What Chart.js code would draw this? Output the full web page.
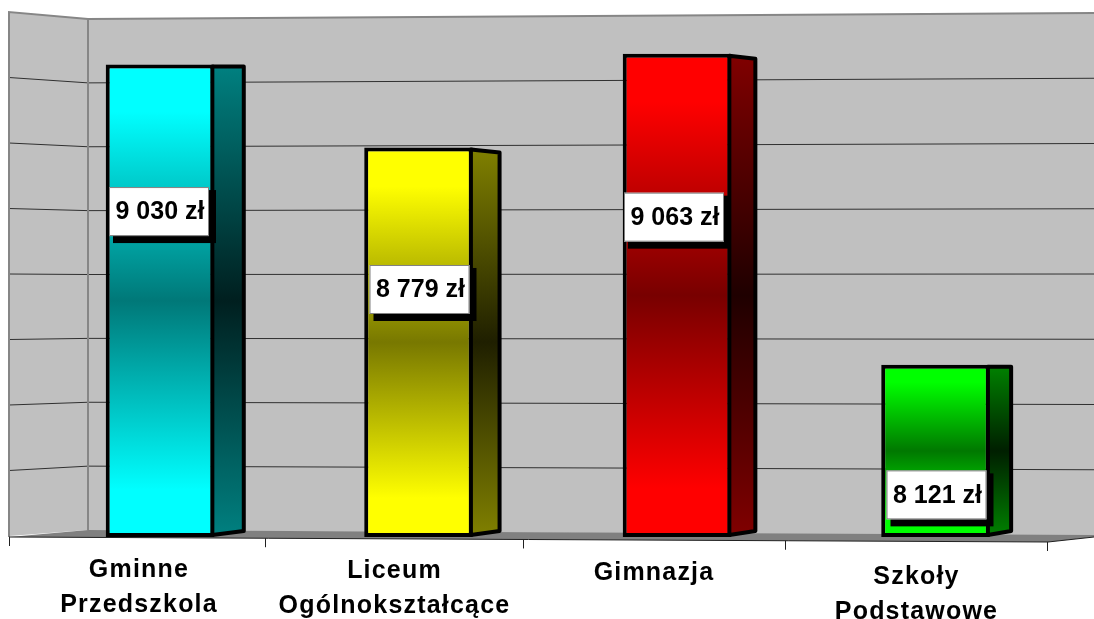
<!DOCTYPE html>
<html>
<head>
<meta charset="utf-8">
<title>Wydatki na ucznia</title>
<style>
  html, body { margin: 0; background: #fff; }
  canvas { display: block; }
</style>
<script src="https://cdn.jsdelivr.net/npm/chart.js@4"></script>
</head>
<body>
<canvas id="costChart" width="1094" height="619"></canvas>
<script>
const categories = [['Gminne', 'Przedszkola'], ['Liceum', 'Ogólnokształcące'], ['Gimnazja'], ['Szkoły', 'Podstawowe']];
const costs = [9030, 8779, 9063, 8121];
const faceColors = ['#00ffff', '#ffff00', '#ff0000', '#00ff00'];
const faceMidColors = ['#007878', '#787800', '#780000', '#007800'];
const sideColors = ['#008080', '#808000', '#800000', '#008000'];
const sideDarkColors = ['#001f1f', '#1f1f00', '#1f0000', '#001f00'];
const axisMin = 7600;
const axisMax = 9200;
const axisStep = 200;

// per bar tweaks, the original 3D chart is not regular
const labelDrop = [147, 142, 163.5, 130];
const labelShift = [-1, 1, -3, 1];
const sideTopDrop = [0, 3, 3, 0];
const tickLabelDrift = [0, 1, 3, 7];
const tickLabelNudge = [0, -3, -2, 2];
const tickMarkNudge = [-1, -3, -4, 0, 3];
const FONT = "'Liberation Sans', Arial, sans-serif";

function money(v) {
  return String(v).replace(/\B(?=(\d{3})+$)/g, ' ') + ' zł';
}

function lerp(a, b, t) {
  return a + (b - a) * t;
}

function faceGradient(c) {
  const { chart, dataIndex } = c;
  if (!chart.chartArea) return faceColors[dataIndex];
  const y = chart.scales.y;
  const g = chart.ctx.createLinearGradient(0, y.getPixelForValue(costs[dataIndex]), 0, y.bottom);
  g.addColorStop(0.1, faceColors[dataIndex]);
  g.addColorStop(0.5, faceMidColors[dataIndex]);
  g.addColorStop(0.9, faceColors[dataIndex]);
  return g;
}

const room3d = {
  id: 'room3d',
  afterUpdate(chart) {
    // tick labels follow the tilt of the front edge
    chart.scales.x.getLabelItems().forEach((item, i) => {
      item.options.translation[0] += tickLabelNudge[i];
      item.options.translation[1] += tickLabelDrift[i];
    });
  },
  beforeDraw(chart) {
    chart.ctx.letterSpacing = '1.2px';
  },
  beforeDatasetsDraw(chart) {
    const ctx = chart.ctx;
    const x = chart.scales.x;
    const y = chart.scales.y;
    const t = v => (y.getPixelForValue(v) - y.top) / (y.bottom - y.top);
    ctx.save();

    // walls
    ctx.fillStyle = '#c0c0c0';
    ctx.beginPath();
    ctx.moveTo(9, 12); ctx.lineTo(88, 19); ctx.lineTo(1094, 13);
    ctx.lineTo(1094, 536); ctx.lineTo(88, 530); ctx.lineTo(9, 536);
    ctx.closePath();
    ctx.fill();

    // gridlines, one per y tick
    y.ticks.forEach(tick => {
      if (tick.value === axisMin || tick.value === axisMax) return;
      const f = t(tick.value);
      ctx.strokeStyle = '#303030';
      ctx.lineWidth = 1;
      ctx.beginPath();
      ctx.moveTo(9, lerp(12, 536, f));
      ctx.lineTo(88, lerp(19, 530, f));
      ctx.lineTo(1094, lerp(13, 535, f));
      ctx.stroke();
    });

    // floor
    ctx.fillStyle = '#808080';
    ctx.beginPath();
    ctx.moveTo(9, 537); ctx.lineTo(88, 530); ctx.lineTo(1094, 535);
    ctx.lineTo(1094, 537); ctx.lineTo(1048, 542);
    ctx.closePath();
    ctx.fill();

    // wall edges
    ctx.strokeStyle = '#868686';
    ctx.lineWidth = 2;
    ctx.beginPath();
    ctx.moveTo(9, 537); ctx.lineTo(9, 12); ctx.lineTo(88, 19); ctx.lineTo(1094, 13);
    ctx.moveTo(88, 19); ctx.lineTo(88, 530);
    ctx.stroke();

    // front edge and tick marks between the categories
    ctx.strokeStyle = '#202020';
    ctx.lineWidth = 1;
    ctx.beginPath();
    ctx.moveTo(9, 537); ctx.lineTo(1048, 542); ctx.lineTo(1094, 537);
    const step = x.width / categories.length;
    for (let i = 0; i <= categories.length; i++) {
      const px = x.left + step * i - 21 + tickMarkNudge[i];
      const py = lerp(537, 542, (px - 9) / 1039);
      ctx.moveTo(Math.round(px) + 0.5, py);
      ctx.lineTo(Math.round(px) + 0.5, py + 9);
    }
    ctx.stroke();

    // side faces of the bars
    chart.getDatasetMeta(0).data.forEach((bar, i) => {
      const right = bar.x + bar.width / 2 - 2;
      const top = bar.y + 2;
      const bottom = bar.base - 2;
      const depth = 31.5 - (bar.x - 160) * 0.0105;
      const g = ctx.createLinearGradient(0, top, 0, bottom);
      g.addColorStop(0, sideColors[i]);
      g.addColorStop(0.5, sideDarkColors[i]);
      g.addColorStop(1, sideColors[i]);
      ctx.fillStyle = g;
      ctx.strokeStyle = '#000';
      ctx.lineWidth = 4;
      ctx.lineJoin = 'round';
      ctx.beginPath();
      ctx.moveTo(right, top);
      ctx.lineTo(right + depth, top + sideTopDrop[i]);
      ctx.lineTo(right + depth, bottom - 4);
      ctx.lineTo(right, bottom);
      ctx.closePath();
      ctx.fill();
      ctx.stroke();
    });
    ctx.restore();
  },
  afterDatasetsDraw(chart) {
    const ctx = chart.ctx;
    ctx.save();
    ctx.letterSpacing = '0px';
    ctx.font = 'bold 25px ' + FONT;
    ctx.textAlign = 'center';
    ctx.textBaseline = 'middle';
    chart.getDatasetMeta(0).data.forEach((bar, i) => {
      const w = 100;
      const h = 49;
      const cx = bar.x + labelShift[i];
      const left = cx - w / 2;
      const top = bar.y + labelDrop[i] - h / 2;
      ctx.fillStyle = '#000';
      ctx.fillRect(left + 4, top + 3, w + 3, h + 4);
      ctx.fillStyle = '#fff';
      ctx.fillRect(left, top, w, h);
      ctx.strokeStyle = '#808080';
      ctx.lineWidth = 1;
      ctx.strokeRect(left + 0.5, top + 0.5, w - 1, h - 1);
      ctx.fillStyle = '#000';
      ctx.fillText(money(costs[i]), cx + 1, top + h / 2 + 1);
    });
    ctx.restore();
  }
};

new Chart(document.getElementById('costChart').getContext('2d'), {
  type: 'bar',
  data: {
    labels: categories,
    datasets: [{
      label: 'Koszt',
      data: costs,
      base: axisMin,
      backgroundColor: faceGradient,
      borderColor: '#000',
      borderWidth: 4,
      borderSkipped: false,
      barPercentage: 0.42,
      categoryPercentage: 1
    }]
  },
  options: {
    responsive: false,
    animation: false,
    layout: { padding: { left: 30.75, right: 29.25, top: 8.4, bottom: 0 } },
    plugins: {
      legend: { display: false },
      tooltip: { enabled: false }
    },
    scales: {
      x: {
        afterFit(scale) { scale.height = 82; },
        grid: { display: false, drawTicks: false },
        border: { display: false },
        ticks: {
          color: '#000',
          padding: 16,
          labelOffset: -21,
          maxRotation: 0,
          font: { family: FONT, size: 25, weight: 'bold', lineHeight: 1.38 }
        }
      },
      y: {
        display: false,
        min: axisMin,
        max: axisMax,
        ticks: { stepSize: axisStep }
      }
    }
  },
  plugins: [room3d]
});
</script>
</body>
</html>
